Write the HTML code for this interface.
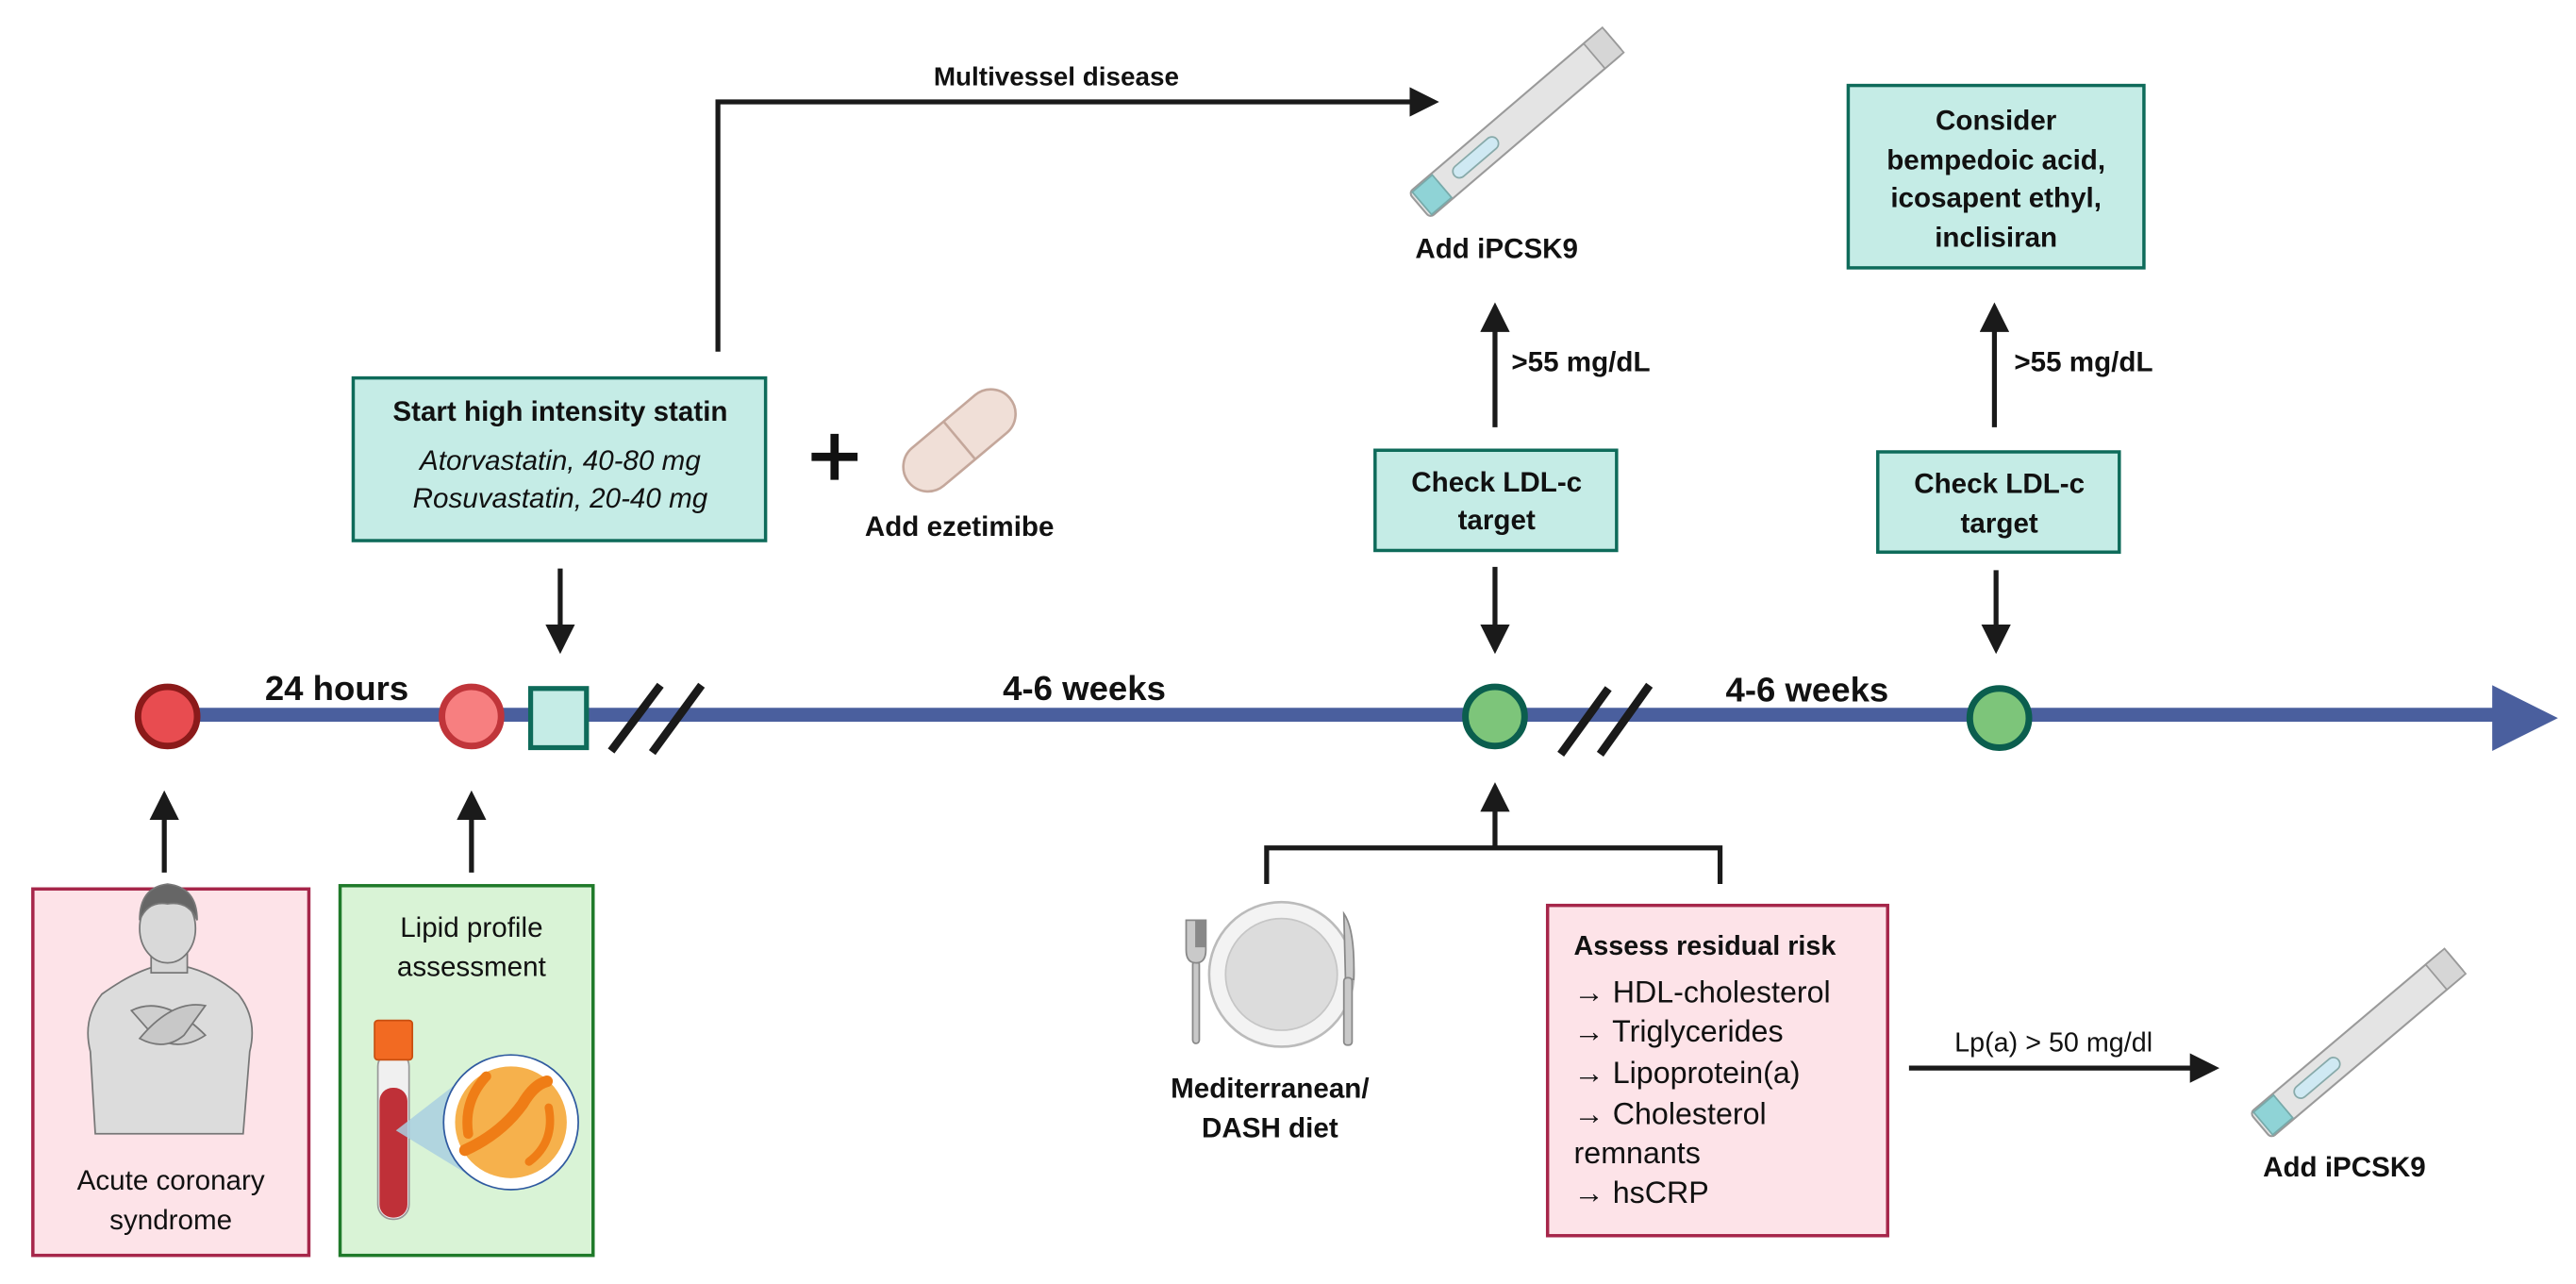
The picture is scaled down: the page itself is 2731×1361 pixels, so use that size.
<!DOCTYPE html>
<html><head><meta charset="utf-8"><style>
html,body{margin:0;padding:0;background:#fff;}
svg{display:block;}
text{font-family:"Liberation Sans",sans-serif;fill:#111;}
.b{font-weight:bold;}
</style></head><body>
<svg width="2731" height="1361" viewBox="0 0 1568 781.4" xmlns="http://www.w3.org/2000/svg">
<defs>
<marker id="ah" markerWidth="6" markerHeight="6" refX="5" refY="3" orient="auto" markerUnits="strokeWidth">
<path d="M0,0 L6,3 L0,6 z" fill="#1a1a1a"/></marker>
<g id="pen">
<rect x="0" y="-10" width="155" height="20" rx="3" fill="#e4e4e4" stroke="#9a9a9a" stroke-width="1.2"/>
<rect x="140" y="-10" width="15" height="20" fill="#d6d6d6" stroke="#9a9a9a" stroke-width="1"/>
<rect x="2" y="-9" width="16" height="18" fill="#8fd3d6" stroke="#7aa" stroke-width="1"/>
<rect x="28" y="-4" width="34" height="8" rx="4" fill="#cfe9f3" stroke="#8aa" stroke-width="1"/>
</g>
</defs>

<!-- timeline -->
<line x1="103" y1="435" x2="1520" y2="435" stroke="#4a5f9e" stroke-width="8.5"/>
<path d="M1517,417 L1557,437 L1517,457 z" fill="#4a5f9e"/>

<!-- break slashes -->
<g stroke="#1a1a1a" stroke-width="5"><line x1="402" y1="417" x2="372" y2="457"/><line x1="427" y1="417" x2="397" y2="458"/></g>
<g stroke="#1a1a1a" stroke-width="5"><line x1="979" y1="419" x2="950" y2="459"/><line x1="1004" y1="417" x2="974" y2="459"/></g>

<!-- nodes -->
<circle cx="102" cy="436" r="18" fill="#e84c50" stroke="#8b1a1a" stroke-width="4"/>
<circle cx="287" cy="436" r="18" fill="#f77f80" stroke="#c0353a" stroke-width="4"/>
<rect x="323" y="419" width="34" height="36" fill="#c5ece6" stroke="#0e6b5a" stroke-width="3"/>
<circle cx="910" cy="436" r="18" fill="#7dc57a" stroke="#0b5e4e" stroke-width="4"/>
<circle cx="1217" cy="437" r="18" fill="#7dc57a" stroke="#0b5e4e" stroke-width="4"/>

<text x="205" y="426" class="b" font-size="21" text-anchor="middle">24 hours</text>
<text x="660" y="426" class="b" font-size="21" text-anchor="middle">4-6 weeks</text>
<text x="1100" y="427" class="b" font-size="21" text-anchor="middle">4-6 weeks</text>

<!-- arrows -->
<g stroke="#1a1a1a" stroke-width="3" fill="none">
<line x1="341" y1="346" x2="341" y2="395" marker-end="url(#ah)"/>
<polyline points="437,214 437,62 873,62" marker-end="url(#ah)"/>
<line x1="910" y1="260" x2="910" y2="187" marker-end="url(#ah)"/>
<line x1="910" y1="345" x2="910" y2="395" marker-end="url(#ah)"/>
<line x1="1215" y1="347" x2="1215" y2="395" marker-end="url(#ah)"/>
<line x1="1214" y1="260" x2="1214" y2="187" marker-end="url(#ah)"/>
<line x1="100" y1="531" x2="100" y2="484" marker-end="url(#ah)"/>
<line x1="287" y1="531" x2="287" y2="484" marker-end="url(#ah)"/>
<polyline points="771,538 771,516 1047,516 1047,538"/>
<line x1="910" y1="516" x2="910" y2="479" marker-end="url(#ah)"/>
<line x1="1162" y1="650" x2="1348" y2="650" marker-end="url(#ah)"/>
</g>

<text x="643" y="52" class="b" font-size="16" text-anchor="middle">Multivessel disease</text>

<!-- statin box -->
<rect x="215" y="230" width="251" height="99" fill="#c5ece6" stroke="#0e6b5a" stroke-width="2"/>
<text x="341" y="256" class="b" font-size="17" text-anchor="middle">Start high intensity statin</text>
<text x="341" y="286" font-size="17" font-style="italic" text-anchor="middle">Atorvastatin, 40-80 mg</text>
<text x="341" y="309" font-size="17" font-style="italic" text-anchor="middle">Rosuvastatin, 20-40 mg</text>

<!-- plus & pill -->
<path d="M494,278 h28 M508,264 v28" stroke="#111" stroke-width="5"/>
<g transform="translate(584,268) rotate(-40)">
<rect x="-40" y="-15" width="80" height="30" rx="15" fill="#f0dfd7" stroke="#c4a79b" stroke-width="1.5"/>
<line x1="0" y1="-15" x2="0" y2="15" stroke="#c4a79b" stroke-width="1.5"/>
</g>
<text x="584" y="326" class="b" font-size="17" text-anchor="middle">Add ezetimibe</text>

<!-- top pen -->
<g transform="translate(864,125) rotate(-40.5)"><use href="#pen"/></g>
<text x="911" y="157" class="b" font-size="17" text-anchor="middle">Add iPCSK9</text>
<text x="920" y="226" class="b" font-size="17">&gt;55 mg/dL</text>
<text x="1226" y="226" class="b" font-size="17">&gt;55 mg/dL</text>

<!-- check boxes -->
<rect x="837" y="274" width="147" height="61" fill="#c5ece6" stroke="#0e6b5a" stroke-width="2"/>
<text x="911" y="299" class="b" font-size="17" text-anchor="middle">Check LDL-c</text>
<text x="911" y="322" class="b" font-size="17" text-anchor="middle">target</text>
<rect x="1143" y="275" width="147" height="61" fill="#c5ece6" stroke="#0e6b5a" stroke-width="2"/>
<text x="1217" y="300" class="b" font-size="17" text-anchor="middle">Check LDL-c</text>
<text x="1217" y="324" class="b" font-size="17" text-anchor="middle">target</text>

<rect x="1125" y="52" width="180" height="111" fill="#c5ece6" stroke="#0e6b5a" stroke-width="2"/>
<text x="1215" y="79" class="b" font-size="17" text-anchor="middle">Consider</text>
<text x="1215" y="103" class="b" font-size="17" text-anchor="middle">bempedoic acid,</text>
<text x="1215" y="126" class="b" font-size="17" text-anchor="middle">icosapent ethyl,</text>
<text x="1215" y="150" class="b" font-size="17" text-anchor="middle">inclisiran</text>

<!-- ACS box -->
<rect x="20" y="541" width="168" height="223" fill="#fde3e8" stroke="#a6264a" stroke-width="2"/>
<g fill="#dcdcdc" stroke="#777" stroke-width="1">
<path d="M58,690 L55,640 Q50,620 62,605 Q80,592 95,588 L112,588 Q130,592 145,605 Q157,620 152,640 L148,690 z"/>
<rect x="92" y="570" width="22" height="22" fill="#d6d6d6"/>
<ellipse cx="102" cy="565" rx="17" ry="21" fill="#d9d9d9"/>
<path d="M85,560 Q85,540 102,538 Q120,540 120,560 Q115,548 102,550 Q90,548 85,560z" fill="#666"/>
<path d="M80,615 Q100,605 125,630 Q110,640 95,632 Z" fill="#cfcfcf"/>
<path d="M125,612 Q105,608 85,632 Q100,640 112,630 Z" fill="#c8c8c8"/>
</g>
<text x="104" y="724" font-size="17" text-anchor="middle">Acute coronary</text>
<text x="104" y="748" font-size="17" text-anchor="middle">syndrome</text>

<!-- lipid box -->
<rect x="207" y="539" width="154" height="225" fill="#d9f3d6" stroke="#1f7a2a" stroke-width="2"/>
<text x="287" y="570" font-size="17" text-anchor="middle">Lipid profile</text>
<text x="287" y="594" font-size="17" text-anchor="middle">assessment</text>
<rect x="230" y="640" width="19" height="102" rx="9" fill="#f0f0f0" stroke="#999" stroke-width="1"/>
<rect x="231" y="662" width="17" height="79" rx="8" fill="#bf3038"/>
<rect x="228" y="621" width="23" height="24" rx="2" fill="#f26a22" stroke="#c84f10" stroke-width="1"/>
<path d="M241,688 L290,650 L290,718 z" fill="#a9cfe0" opacity="0.85"/>
<circle cx="311" cy="683" r="41" fill="#fff" stroke="#2f5aa0" stroke-width="1"/>
<circle cx="311" cy="683" r="34" fill="#f6b14c"/>
<path d="M283,700 Q305,690 318,672 Q325,660 333,658" stroke="#ef7d16" stroke-width="7" fill="none" stroke-linecap="round"/>
<path d="M285,690 Q282,670 296,655" stroke="#ef7d16" stroke-width="6" fill="none" stroke-linecap="round"/>
<path d="M334,674 Q338,695 322,707" stroke="#ef7d16" stroke-width="5" fill="none" stroke-linecap="round"/>

<!-- diet -->
<circle cx="780" cy="593" r="44" fill="#f3f3f3" stroke="#bbb" stroke-width="1.5"/>
<circle cx="780" cy="593" r="34" fill="#dcdcdc" stroke="#c6c6c6" stroke-width="1"/>
<g fill="#c9c9c9" stroke="#888" stroke-width="1">
<rect x="726" y="585" width="4" height="50" rx="2"/>
<path d="M722,560 v18 q0,8 6,8 q6,0 6,-8 v-18 h-1 v16 h-1 v-16 h-1 v16 h-1 v-16 h-1 v16 h-1 v-16z"/>
<path d="M818,556 q7,10 6,40 h-5 z"/>
<rect x="818" y="595" width="5" height="41" rx="2"/>
</g>
<text x="773" y="668" class="b" font-size="17" text-anchor="middle">Mediterranean/</text>
<text x="773" y="692" class="b" font-size="17" text-anchor="middle">DASH diet</text>

<!-- assess box -->
<rect x="942" y="551" width="207" height="201" fill="#fde3e8" stroke="#a6264a" stroke-width="2"/>
<text x="958" y="581" class="b" font-size="16.5">Assess residual risk</text>
<text x="958" y="610" font-size="18.5">→ HDL-cholesterol</text>
<text x="958" y="634" font-size="18.5">→ Triglycerides</text>
<text x="958" y="659" font-size="18.5">→ Lipoprotein(a)</text>
<text x="958" y="684" font-size="18.5">→ Cholesterol</text>
<text x="958" y="708" font-size="18.5">remnants</text>
<text x="958" y="732" font-size="18.5">→ hsCRP</text>

<text x="1250" y="640" font-size="16.5" text-anchor="middle">Lp(a) &gt; 50 mg/dl</text>
<g transform="translate(1376,685) rotate(-40.2)"><use href="#pen"/></g>
<text x="1427" y="716" class="b" font-size="17" text-anchor="middle">Add iPCSK9</text>
</svg>
</body></html>
